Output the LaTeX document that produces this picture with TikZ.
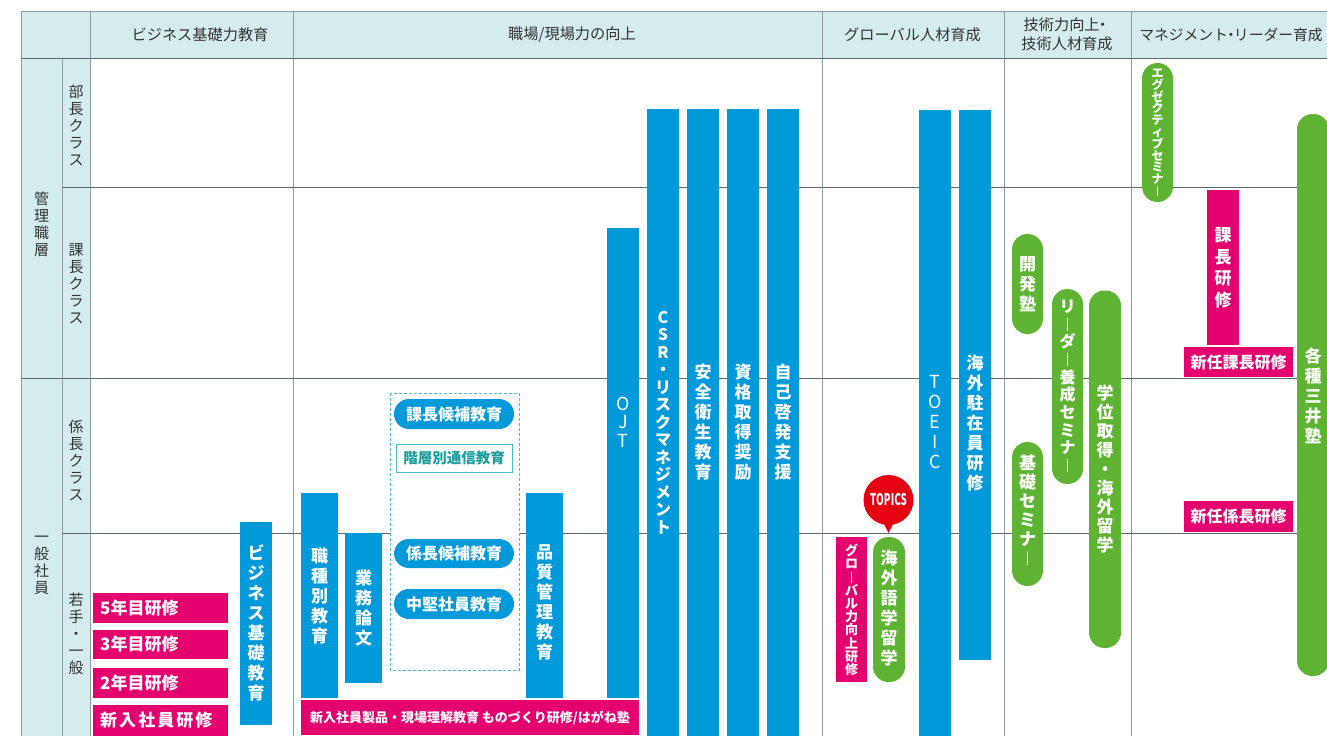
\documentclass[tikz,border=0pt]{standalone}
\usepackage{fontspec}
\usepackage{graphicx}
\newfontfamily\jp{Noto Sans CJK JP}
\definecolor{cblue}{HTML}{0099D9}
\definecolor{cpink}{HTML}{E4006E}
\definecolor{cgreen}{HTML}{5EB432}
\definecolor{cred}{HTML}{E60012}
\definecolor{chbg}{HTML}{D4ECEC}
\definecolor{cvline}{HTML}{8E9CA3}
\definecolor{chline}{HTML}{5D6A72}
\definecolor{cteal}{HTML}{4DBDBD}
\definecolor{cteal2}{HTML}{1A9E9E}
\definecolor{ctext}{HTML}{333333}
\newcommand\vlong{\rule[-0.04em]{0.1em}{0.82em}}
\newcommand\ndot{\kern-0.3em・\kern-0.3em}
\tikzset{
  bluebar/.style={fill=cblue},
  pinkbar/.style={fill=cpink},
  greenpill/.style={fill=cgreen, rounded corners=15.5pt},
  bluepill/.style={fill=cblue, rounded corners=15pt},
  vline/.style={draw=cvline, line width=0.9pt},
  hline/.style={draw=chline, line width=0.9pt},
  vt/.style={text=white, align=center, inner sep=0pt, font=\jp\bfseries\fontsize{17}{20}\selectfont},
  vts/.style={text=white, align=center, inner sep=0pt, font=\jp\bfseries\fontsize{13}{13.2}\selectfont},
  ht/.style={text=white, inner sep=0pt, font=\jp\bfseries\fontsize{16}{19}\selectfont},
  lab/.style={text=ctext, align=center, inner sep=0pt, font=\jp\fontsize{15}{17}\selectfont},
  hd/.style={text=ctext, align=center, inner sep=0pt, font=\jp\fontsize{15.2}{19}\selectfont},
}
\begin{document}
\begin{tikzpicture}[x=1pt,y=-1pt]
\useasboundingbox (0,0) rectangle (1327,736);
\clip (0,0) rectangle (1327,736);
% backgrounds
\fill[white] (0,0) rectangle (1327,736);
\fill[chbg] (21,11) rectangle (1327,58);
\fill[chbg] (21,58) rectangle (90,736);
% grid
\draw[vline] (21,11) -- (1327,11);
\foreach \x in {21,90,293,822,1004,1131} \draw[vline] (\x,11) -- (\x,736);
\draw[vline] (62,58) -- (62,736);
\draw[hline] (21,58) -- (1327,58);
\draw[hline] (62,187) -- (1327,187);
\draw[hline] (21,378) -- (1327,378);
\draw[hline] (62,533) -- (1327,533);
% headers
\node[hd] (h1) at (200,34.5) {ビジネス基礎力教育};
\node[hd] (h2) at (572,34.5) {職場/現場力の向上};
\node[hd] (h3) at (912.5,34.5) {グローバル人材育成};
\node[hd] (h4) at (1067,34.5) {技術力向上\ndot\kern0.3em\\技術人材育成};
\node[hd, font=\jp\fontsize{14.8}{19}\selectfont] (h5) at (1231,34.5) {マネジメント\ndot リーダー育成};
% row labels
\node[lab] (l1) at (41.5,224) {管\\理\\職\\層};
\node[lab] (l2) at (41.5,565) {一\\般\\社\\員};
\node[lab] (r1) at (76,125) {部\\長\\ク\\ラ\\ス};
\node[lab] (r2) at (76,284) {課\\長\\ク\\ラ\\ス};
\node[lab] (r3) at (76,460) {係\\長\\ク\\ラ\\ス};
\node[lab] (r4) at (76,634) {若\\手\\・\\一\\般};
% column 1
\fill[pinkbar] (93,593) rectangle (228,623);
\fill[pinkbar] (93,630) rectangle (228,659);
\fill[pinkbar] (93,668) rectangle (228,698);
\fill[pinkbar] (93,705) rectangle (228,736);
\node[ht, anchor=west, font=\jp\bfseries\fontsize{17}{20}\selectfont] (y5) at (100,608) {5年目研修};
\node[ht, anchor=west, font=\jp\bfseries\fontsize{17}{20}\selectfont] (y3) at (100,644.5) {3年目研修};
\node[ht, anchor=west, font=\jp\bfseries\fontsize{17}{20}\selectfont] (y2) at (100,683) {2年目研修};
\node[ht, anchor=west, font=\jp\bfseries\fontsize{17}{20}\selectfont\addfontfeature{LetterSpace=12}] (y0) at (100,720.5) {新入社員研修};
\fill[bluebar] (240,522) rectangle (272,725);
\node[vt] (bz) at (256,623) {ビ\\ジ\\ネ\\ス\\基\\礎\\教\\育};
% column 2
\fill[bluebar] (301,493) rectangle (338,698);
\node[vt] (sy) at (319.5,596) {職\\種\\別\\教\\育};
\fill[bluebar] (345,533) rectangle (382,683);
\node[vt] (gm) at (363.5,608) {業\\務\\論\\文};
\draw[draw=cteal, fill=white, dashed, dash pattern=on 3pt off 2pt, line width=0.8pt] (390,393) rectangle (519,670);
\fill[bluepill] (394,399) rectangle (514,429);
\node[ht] (kk) at (454,414) {課長候補教育};
\draw[draw=cteal, fill=white, line width=1pt] (396,444) rectangle (512,472);
\node[ht, text=cteal2, font=\jp\bfseries\fontsize{14.5}{17}\selectfont] (ts) at (454,458) {階層別通信教育};
\fill[bluepill] (394,539) rectangle (514,568);
\node[ht] (kak) at (454,553.5) {係長候補教育};
\fill[bluepill] (394,589) rectangle (514,619);
\node[ht] (ck) at (454,604) {中堅社員教育};
\fill[bluebar] (526,493) rectangle (563,698);
\node[vt] (hs) at (544.5,602) {品\\質\\管\\理\\教\\育};
\fill[bluebar] (607,228) rectangle (639,698);
\node[vt, font=\jp\fontsize{18}{18.5}\selectfont] (ojt) at (623,422) {O\\J\\T};
\fill[pinkbar] (301,700) rectangle (639,735);
\node[ht, font=\jp\bfseries\fontsize{13}{16}\selectfont] (sn) at (470,718) {新入社員製品・現場理解教育 ものづくり研修/はがね塾};
\fill[bluebar] (647,109) rectangle (679,736);
\node[vt, font=\jp\bfseries\fontsize{16}{17.5}\selectfont] (csr) at (663,422.5) {C\\S\\R\\・\\リ\\ス\\ク\\マ\\ネ\\ジ\\メ\\ン\\ト};
\fill[bluebar] (687,109) rectangle (719,736);
\node[vt] (an) at (703,422.5) {安\\全\\衛\\生\\教\\育};
\fill[bluebar] (727,109) rectangle (759,736);
\node[vt] (sk) at (743,422.5) {資\\格\\取\\得\\奨\\励};
\fill[bluebar] (767,109) rectangle (799,736);
\node[vt] (jk) at (783,422) {自\\己\\啓\\発\\支\\援};
% column 3
\fill[bluebar] (919,110) rectangle (951,736);
\node[vt, font=\jp\fontsize{18}{20}\selectfont] (toeic) at (935,422.5) {T\\O\\E\\I\\C};
\fill[bluebar] (959,110) rectangle (991,660);
\node[vt] (kc) at (975,423) {海\\外\\駐\\在\\員\\研\\修};
\fill[pinkbar] (836,537) rectangle (867,682);
\node[vts] (gr) at (851.5,610) {グ\\ロ\\\vlong\\バ\\ル\\力\\向\\上\\研\\修};
\fill[greenpill] (873,537) rectangle (905,682);
\node[vt] (kg) at (889,608) {海\\外\\語\\学\\留\\学};
\fill[cred] (888.5,500) circle (25);
\fill[cred] (882,520) -- (895,520) -- (888.5,533) -- cycle;
\node[inner sep=0pt, text=white, font=\jp\bfseries\fontsize{16}{18}\selectfont] (topics) at (888.5,500) {\scalebox{0.62}[1]{TOPICS}};
% column 4
\fill[greenpill] (1012,234) rectangle (1043,334);
\node[vt] (kh) at (1027.5,284.5) {開\\発\\塾};
\fill[greenpill] (1052,289) rectangle (1083,484);
\node[vt, font=\jp\bfseries\fontsize{16}{17.7}\selectfont] (ld) at (1067.5,386) {リ\\\vlong\\ダ\\\vlong\\養\\成\\セ\\ミ\\ナ\\\vlong};
\fill[greenpill] (1089,290.5) rectangle (1121,648);
\node[vt, font=\jp\bfseries\fontsize{17}{19}\selectfont] (gi) at (1105,468.5) {学\\位\\取\\得\\・\\海\\外\\留\\学};
\fill[greenpill] (1012,442) rectangle (1043,586);
\node[vt, font=\jp\bfseries\fontsize{17}{19}\selectfont] (ks) at (1027.5,510) {基\\礎\\セ\\ミ\\ナ\\\vlong};
% column 5
\fill[greenpill] (1142,63) rectangle (1173,202);
\node[vt, font=\jp\bfseries\fontsize{12}{11.8}\selectfont] (ex) at (1157.5,132.5) {エ\\グ\\ゼ\\ク\\テ\\ィ\\ブ\\セ\\ミ\\ナ\\\vlong};
\fill[pinkbar] (1207,190) rectangle (1239,345);
\node[vt, font=\jp\bfseries\fontsize{17}{21.5}\selectfont] (kc2) at (1223,268) {課\\長\\研\\修};
\fill[pinkbar] (1184,346.5) rectangle (1293,377);
\node[ht] (sk2) at (1238.7,362) {新任課長研修};
\fill[pinkbar] (1184,500.7) rectangle (1293,532.4);
\node[ht] (sk3) at (1238.7,516.5) {新任係長研修};
\fill[greenpill] (1297,114) rectangle (1329,676);
\node[vt] (mj) at (1313,396) {各\\種\\三\\井\\塾};
\end{tikzpicture}
\end{document}
